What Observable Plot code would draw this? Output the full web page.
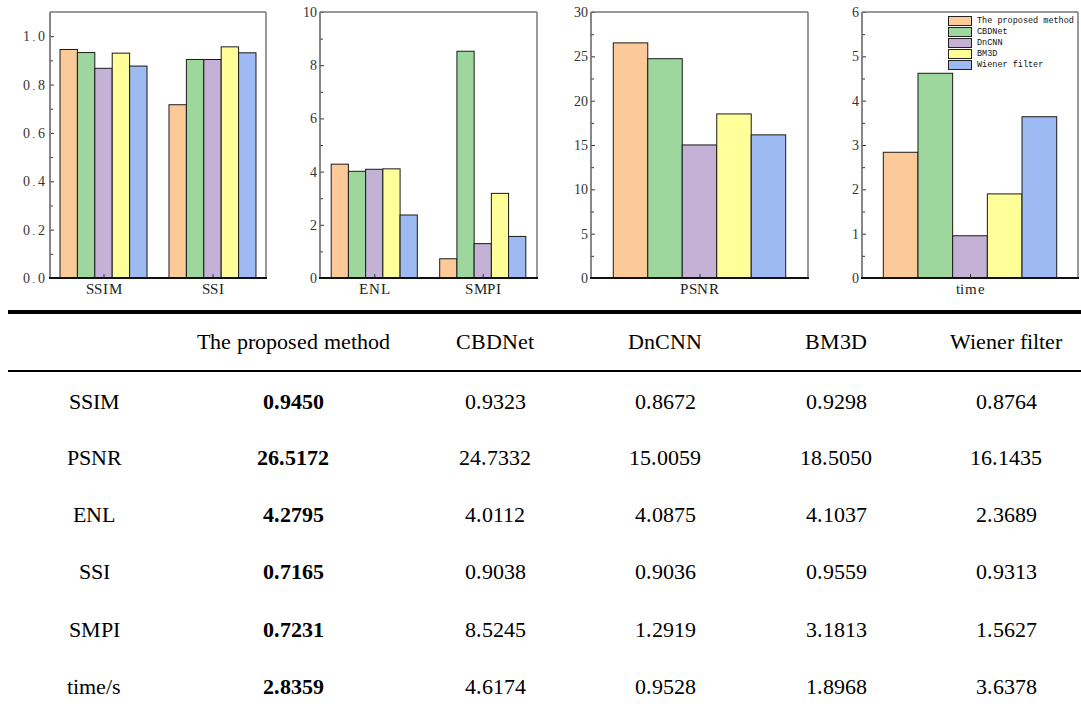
<!DOCTYPE html>
<html><head><meta charset="utf-8">
<script src="https://cdn.jsdelivr.net/npm/d3@7"></script>
<script src="https://cdn.jsdelivr.net/npm/@observablehq/plot@0.6"></script>
<style>
@font-face{font-family:"RefSerif";src:local("Liberation Serif"),local("LiberationSerif"),local("LiberationSerif-Regular"),local("Tinos"),local("Times New Roman"),local("DejaVu Serif"),local("DejaVuSerif"),local("Noto Serif");font-weight:normal;}
@font-face{font-family:"RefSerif";src:local("Liberation Serif Bold"),local("LiberationSerif-Bold"),local("Tinos Bold"),local("Times New Roman Bold"),local("DejaVu Serif Bold"),local("DejaVuSerif-Bold"),local("Noto Serif Bold");font-weight:bold;}
html,body{margin:0;padding:0;background:#fff;}
#root{position:relative;width:1081px;height:711px;overflow:hidden;font-family:"RefSerif","Liberation Serif","DejaVu Serif",serif;}
.panel{position:absolute;top:0;}
.legend{position:absolute;left:948px;top:15px;font-family:"Liberation Mono","DejaVu Sans Mono",monospace;font-size:8.5px;color:#111;}
.legend .row{height:11.2px;display:flex;align-items:center;}
.legend .sw{width:22px;height:8px;border:1px solid #222;margin-right:5px;box-sizing:content-box;}
.hline{position:absolute;left:8px;right:0;background:#000;}
.cell{position:absolute;transform:translate(-50%,-50%);white-space:nowrap;font-size:22px;color:#000;font-family:"RefSerif","Liberation Serif","DejaVu Serif",serif;}
.b{font-weight:bold;}
</style></head><body>
<div id="root"></div>
<script>
// ---------- data ----------
const methods = ["The proposed method", "CBDNet", "DnCNN", "BM3D", "Wiener filter"];
const colors = ["#FCCA98", "#9DD79D", "#C3B2D6", "#FFFE99", "#9DBAF2"];
const metricRows = ["SSIM", "PSNR", "ENL", "SSI", "SMPI", "time/s"];
const SSIM = [0.9450, 0.9323, 0.8672, 0.9298, 0.8764];
const PSNR = [26.5172, 24.7332, 15.0059, 18.5050, 16.1435];
const ENL  = [4.2795, 4.0112, 4.0875, 4.1037, 2.3689];
const SSI  = [0.7165, 0.9038, 0.9036, 0.9559, 0.9313];
const SMPI = [0.7231, 8.5245, 1.2919, 3.1813, 1.5627];
const TIME = [2.8359, 4.6174, 0.9528, 1.8968, 3.6378];
const tableValues = [SSIM, PSNR, ENL, SSI, SMPI, TIME];

const ticks1 = [0, 0.2, 0.4, 0.6, 0.8, 1.0];
const minor1 = [0.1, 0.3, 0.5, 0.7, 0.9];
const ticks2 = [0, 2, 4, 6, 8, 10];
const minor2 = [1, 3, 5, 7, 9];
const ticks3 = [0, 5, 10, 15, 20, 25, 30];
const minor3 = [2.5, 7.5, 12.5, 17.5, 22.5, 27.5];
const ticks4 = [0, 1, 2, 3, 4, 5, 6];
const minor4 = [0.5, 1.5, 2.5, 3.5, 4.5, 5.5];

const SERIF = "RefSerif, 'Liberation Serif', 'DejaVu Serif', serif";

// ---------- panels ----------
const panels = [
  {left: 0,   width: 270, mr: 4, groups: [["SSIM", SSIM], ["SSI", SSI]], yMax: 1.1, major: ticks1, minor: minor1, fmt: d3.format(".1f"), fxPad: 0.018, xPad: 0.575, ls: 1.7},
  {left: 270, width: 270, mr: 3, groups: [["ENL", ENL], ["SMPI", SMPI]], yMax: 10, major: ticks2, minor: minor2, fmt: d3.format("d"), fxPad: 0.0, xPad: 0.65, ls: 0},
  {left: 541, width: 270, mr: 3, groups: [["PSNR", PSNR]], yMax: 30, major: ticks3, minor: minor3, fmt: d3.format("d"), fxPad: 0.0, xPad: 0.646, ls: 0},
  {left: 812, width: 269, mr: 3, groups: [["time", TIME]], yMax: 6, major: ticks4, minor: minor4, fmt: d3.format("d"), fxPad: 0.0, xPad: 0.614, ls: 0}
];

const root = document.getElementById("root");
const H = 305, MT = 12, MB = 27, ML = 50;

panels.forEach(p => {
  const data = p.groups.flatMap(([g, vals]) => vals.map((v, i) => ({group: g, method: methods[i], value: v})));
  const chart = Plot.plot({
    width: p.width, height: H,
    marginLeft: ML, marginRight: p.mr, marginTop: MT, marginBottom: MB,
    style: {fontFamily: SERIF, background: "transparent", overflow: "visible"},
    fx: {domain: p.groups.map(g => g[0]), paddingInner: p.fxPad, paddingOuter: 0, round: false},
    x: {domain: methods, paddingInner: 0, paddingOuter: p.xPad, round: false, axis: null},
    y: {domain: [0, p.yMax]},
    color: {domain: methods, range: colors},
    marks: [
      Plot.barY(data, {fx: "group", x: "method", y: "value", fill: "method", stroke: "#1a1a1a", strokeWidth: 1}),
      Plot.axisY(p.minor, {tickSize: -3, tickFormat: () => "", label: null, stroke: "#333"}),
      Plot.axisY(p.major, {tickSize: -4, tickPadding: 8, tickFormat: p.fmt, label: null, fontSize: 14, fill: "#333", stroke: "#333"}),
      Plot.axisFx({anchor: "bottom", tickSize: -4, tickPadding: 9, label: null, fontSize: 15, fill: "#222", stroke: "#333"})
    ]
  });
  const svg = d3.select(chart);
  svg.style("font-family", SERIF);
  svg.selectAll("text").style("font-family", SERIF);
  const x0 = ML, x1 = p.width - p.mr, y0 = MT, y1 = H - MB;
  svg.append("line").attr("x1", x0).attr("x2", x0).attr("y1", y0).attr("y2", y1).attr("stroke", "#6a6a6a").attr("stroke-width", 1.6);
  svg.append("line").attr("x1", x0).attr("x2", x1).attr("y1", y0).attr("y2", y0).attr("stroke", "#777").attr("stroke-width", 1.5);
  svg.append("line").attr("x1", x1).attr("x2", x1).attr("y1", y0).attr("y2", y1).attr("stroke", "#777").attr("stroke-width", 1.5);
  svg.append("line").attr("x1", x0 - 1).attr("x2", x1 + 1).attr("y1", y1).attr("y2", y1).attr("stroke", "#111").attr("stroke-width", 2);
  if (p.ls) svg.selectAll("g[aria-label='y-axis tick label'] text").attr("letter-spacing", p.ls + "px");
  svg.selectAll("g[aria-label='fx-axis tick label'] text").attr("letter-spacing", "0.6px");
  const wrap = document.createElement("div");
  wrap.className = "panel";
  wrap.style.left = p.left + "px";
  wrap.appendChild(chart);
  root.appendChild(wrap);
});

// legend (inside time panel)
const leg = document.createElement("div");
leg.className = "legend";
methods.forEach((m, i) => {
  const r = document.createElement("div");
  r.className = "row";
  r.innerHTML = `<span class="sw" style="background:${colors[i]}"></span><span>${m}</span>`;
  leg.appendChild(r);
});
root.appendChild(leg);

// ---------- table ----------
const colX = [94, 293, 495, 665, 836, 1006];
const headerY = 342;
const rowY = [402, 458, 515, 572, 630, 687];
function addLine(top, h) {
  const d = document.createElement("div");
  d.className = "hline"; d.style.top = top + "px"; d.style.height = h + "px";
  root.appendChild(d);
}
addLine(310, 4);
addLine(369.5, 2.6);
function addCell(text, x, y, bold) {
  const d = document.createElement("div");
  d.className = "cell" + (bold ? " b" : "");
  d.style.left = x + "px"; d.style.top = y + "px";
  d.textContent = text;
  root.appendChild(d);
}
methods.forEach((m, j) => addCell(m, colX[j + 1], headerY, false));
metricRows.forEach((r, i) => {
  addCell(r, colX[0], rowY[i], false);
  tableValues[i].forEach((v, j) => addCell(v.toFixed(4), colX[j + 1], rowY[i], j === 0));
});
</script>
</body></html>
